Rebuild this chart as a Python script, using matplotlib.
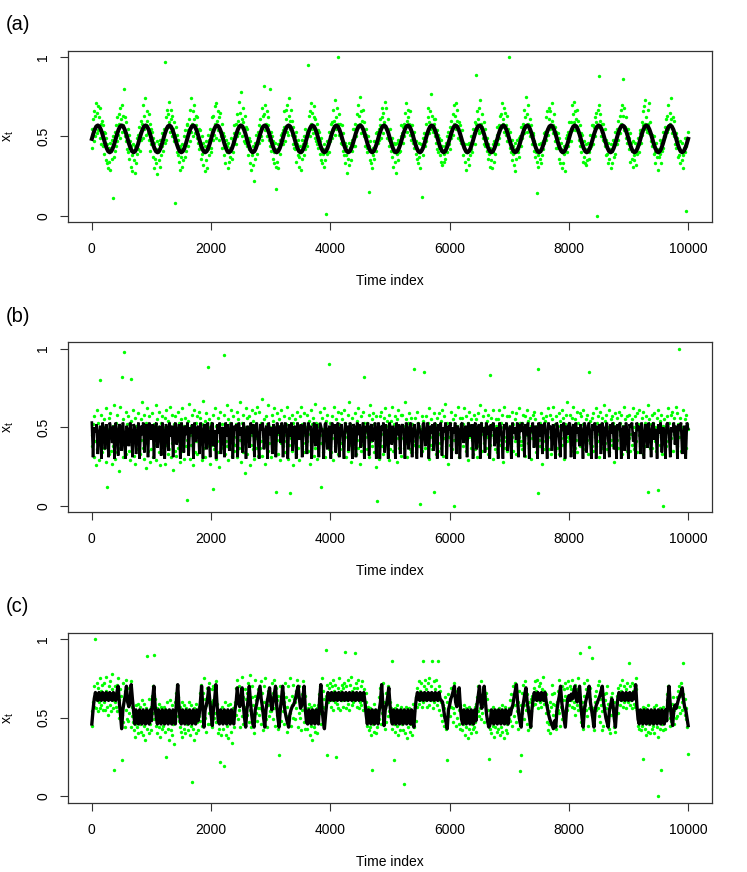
import numpy as np
import matplotlib
matplotlib.use("Agg")
import matplotlib.pyplot as plt

plt.rcParams['font.family'] = ['Liberation Sans', 'DejaVu Sans']

# ---------------- data ----------------
x_ticks = [0, 2000, 4000, 6000, 8000, 10000]
y_ticks = [0, 0.5, 1]
y_ticklabels = ["0", "0.5", "1"]
panel_tags = ["(a)", "(b)", "(c)"]

# (a) smooth periodic signal, every 25 time steps, in thousandths (one line = one cycle)
signal_a = [
    485, 518, 545, 564, 570, 564, 545, 518, 485, 452, 425, 406, 400, 406, 425, 452,
    485, 518, 545, 564, 570, 564, 545, 518, 485, 452, 425, 406, 400, 406, 425, 452,
    485, 518, 545, 564, 570, 564, 545, 518, 485, 452, 425, 406, 400, 406, 425, 452,
    485, 518, 545, 564, 570, 564, 545, 518, 485, 452, 425, 406, 400, 406, 425, 452,
    485, 518, 545, 564, 570, 564, 545, 518, 485, 452, 425, 406, 400, 406, 425, 452,
    485, 518, 545, 564, 570, 564, 545, 518, 485, 452, 425, 406, 400, 406, 425, 452,
    485, 518, 545, 564, 570, 564, 545, 518, 485, 452, 425, 406, 400, 406, 425, 452,
    485, 518, 545, 564, 570, 564, 545, 518, 485, 452, 425, 406, 400, 406, 425, 452,
    485, 518, 545, 564, 570, 564, 545, 518, 485, 452, 425, 406, 400, 406, 425, 452,
    485, 518, 545, 564, 570, 564, 545, 518, 485, 452, 425, 406, 400, 406, 425, 452,
    485, 518, 545, 564, 570, 564, 545, 518, 485, 452, 425, 406, 400, 406, 425, 452,
    485, 518, 545, 564, 570, 564, 545, 518, 485, 452, 425, 406, 400, 406, 425, 452,
    485, 518, 545, 564, 570, 564, 545, 518, 485, 452, 425, 406, 400, 406, 425, 452,
    485, 518, 545, 564, 570, 564, 545, 518, 485, 452, 425, 406, 400, 406, 425, 452,
    485, 518, 545, 564, 570, 564, 545, 518, 485, 452, 425, 406, 400, 406, 425, 452,
    485, 518, 545, 564, 570, 564, 545, 518, 485, 452, 425, 406, 400, 406, 425, 452,
    485, 518, 545, 564, 570, 564, 545, 518, 485, 452, 425, 406, 400, 406, 425, 452,
    485, 518, 545, 564, 570, 564, 545, 518, 485, 452, 425, 406, 400, 406, 425, 452,
    485, 518, 545, 564, 570, 564, 545, 518, 485, 452, 425, 406, 400, 406, 425, 452,
    485, 518, 545, 564, 570, 564, 545, 518, 485, 452, 425, 406, 400, 406, 425, 452,
    485, 518, 545, 564, 570, 564, 545, 518, 485, 452, 425, 406, 400, 406, 425, 452,
    485, 518, 545, 564, 570, 564, 545, 518, 485, 452, 425, 406, 400, 406, 425, 452,
    485, 518, 545, 564, 570, 564, 545, 518, 485, 452, 425, 406, 400, 406, 425, 452,
    485, 518, 545, 564, 570, 564, 545, 518, 485, 452, 425, 406, 400, 406, 425, 452,
    485, 518, 545, 564, 570, 564, 545, 518, 485, 452, 425, 406, 400, 406, 425, 452,
    485,
]

# (a) observations, every 10 time steps, in hundredths (one line = one cycle)
obs_a = [
    55, 43, 61, 47, 66, 50, 63, 71, 52, 65, 69, 54, 62, 49, 68, 58, 45, 60, 44, 57, 53, 39, 52, 35, 49, 33, 45, 30, 43, 34, 46, 29, 42, 36, 48, 11, 50, 37, 53, 41,
    44, 57, 47, 62, 51, 64, 58, 49, 68, 61, 53, 70, 57, 63, 80, 50, 62, 47, 59, 42, 55, 40, 51, 36, 47, 31, 44, 38, 28, 45, 35, 41, 27, 44, 33, 49, 39, 51, 42, 56,
    52, 41, 60, 48, 58, 70, 49, 63, 55, 74, 57, 51, 66, 60, 52, 64, 48, 58, 41, 55, 45, 53, 37, 49, 30, 46, 36, 42, 33, 47, 26, 40, 35, 45, 31, 48, 38, 52, 44, 50,
    41, 55, 46, 97, 62, 48, 67, 56, 64, 59, 72, 53, 61, 67, 50, 63, 55, 47, 59, 8, 50, 56, 40, 51, 38, 48, 34, 44, 29, 42, 37, 31, 45, 35, 43, 50, 37, 54, 41, 58,
    57, 44, 54, 61, 47, 67, 53, 74, 58, 50, 66, 61, 70, 52, 63, 57, 49, 62, 46, 55, 42, 54, 44, 36, 50, 39, 32, 46, 41, 28, 44, 35, 47, 30, 42, 51, 38, 48, 55, 43,
    40, 53, 62, 48, 63, 51, 69, 58, 49, 71, 60, 54, 66, 62, 48, 65, 53, 50, 58, 43, 52, 38, 50, 45, 33, 48, 40, 44, 30, 46, 34, 43, 37, 49, 42, 36, 47, 40, 52, 57,
    50, 58, 45, 64, 50, 60, 72, 52, 65, 57, 78, 61, 50, 68, 59, 47, 63, 46, 56, 48, 44, 55, 38, 49, 42, 33, 47, 29, 40, 38, 32, 44, 22, 46, 36, 45, 51, 39, 49, 53,
    57, 46, 61, 50, 56, 68, 48, 63, 82, 64, 54, 70, 58, 66, 50, 62, 57, 48, 80, 44, 53, 41, 50, 36, 47, 40, 33, 46, 31, 17, 42, 34, 45, 30, 43, 48, 39, 51, 45, 52,
    45, 54, 56, 66, 47, 61, 67, 53, 70, 51, 63, 74, 55, 60, 67, 51, 60, 45, 56, 43, 50, 42, 53, 34, 45, 38, 48, 31, 37, 44, 29, 40, 48, 36, 45, 38, 50, 42, 55, 46,
    53, 44, 95, 51, 63, 50, 66, 58, 71, 55, 65, 52, 62, 69, 49, 61, 47, 58, 45, 54, 43, 53, 39, 47, 35, 49, 33, 42, 39, 31, 45, 35, 41, 1, 47, 39, 46, 53, 40, 50,
    47, 58, 49, 59, 54, 67, 60, 51, 73, 62, 55, 68, 100, 58, 64, 51, 58, 49, 46, 57, 45, 41, 52, 38, 46, 33, 44, 38, 27, 41, 36, 46, 32, 43, 35, 46, 41, 48, 55, 44,
    55, 44, 58, 50, 64, 56, 70, 57, 63, 75, 58, 52, 66, 60, 53, 67, 50, 59, 44, 55, 51, 43, 40, 50, 15, 44, 35, 47, 33, 40, 30, 43, 38, 47, 36, 44, 52, 41, 47, 53,
    46, 55, 48, 61, 57, 49, 68, 62, 52, 65, 59, 72, 56, 68, 55, 49, 61, 54, 48, 44, 55, 47, 41, 37, 49, 31, 46, 40, 34, 45, 27, 39, 46, 35, 48, 40, 47, 41, 50, 57,
    52, 46, 56, 58, 50, 65, 57, 71, 60, 53, 67, 62, 58, 51, 66, 57, 48, 57, 51, 46, 43, 53, 46, 39, 47, 36, 42, 33, 46, 37, 40, 30, 45, 12, 42, 49, 38, 52, 44, 49,
    58, 47, 53, 62, 68, 52, 59, 66, 55, 77, 56, 63, 53, 61, 58, 50, 61, 46, 54, 42, 51, 40, 49, 44, 38, 48, 34, 44, 32, 41, 39, 34, 44, 36, 46, 40, 50, 45, 53, 45,
    42, 56, 60, 49, 56, 64, 51, 70, 58, 63, 71, 55, 60, 67, 49, 59, 52, 48, 57, 46, 47, 54, 38, 46, 43, 34, 45, 40, 29, 40, 45, 36, 32, 46, 38, 50, 42, 47, 40, 55,
    50, 52, 45, 59, 89, 58, 66, 54, 61, 68, 52, 73, 58, 53, 64, 56, 49, 59, 45, 55, 44, 49, 41, 49, 36, 45, 39, 31, 43, 35, 41, 30, 40, 45, 34, 47, 39, 48, 46, 51,
    56, 45, 57, 49, 63, 55, 64, 71, 56, 61, 58, 68, 53, 65, 57, 51, 63, 47, 55, 100, 47, 43, 53, 40, 48, 35, 44, 39, 32, 46, 28, 42, 36, 48, 40, 42, 49, 37, 50, 56,
    44, 56, 49, 58, 52, 67, 56, 62, 75, 53, 64, 58, 70, 55, 61, 50, 57, 52, 45, 52, 51, 41, 47, 37, 45, 40, 34, 14, 38, 31, 45, 36, 41, 33, 46, 38, 47, 42, 52, 46,
    53, 48, 62, 54, 66, 51, 61, 68, 55, 66, 56, 60, 71, 57, 52, 64, 47, 56, 43, 53, 43, 52, 45, 36, 49, 33, 42, 46, 30, 40, 33, 44, 39, 28, 44, 49, 40, 51, 44, 53,
    47, 59, 53, 47, 59, 70, 54, 64, 59, 72, 66, 54, 61, 56, 67, 53, 60, 48, 57, 44, 52, 40, 51, 43, 34, 47, 37, 33, 45, 32, 42, 35, 46, 40, 36, 43, 51, 44, 48, 57,
    57, 45, 56, 62, 50, 59, 65, 0, 67, 56, 70, 88, 60, 64, 50, 58, 53, 58, 48, 47, 44, 55, 38, 48, 39, 46, 33, 42, 36, 42, 30, 45, 33, 41, 48, 37, 46, 39, 53, 45,
    45, 55, 48, 60, 55, 63, 52, 67, 58, 70, 86, 63, 54, 68, 56, 62, 49, 55, 46, 55, 49, 42, 52, 34, 46, 41, 36, 47, 31, 38, 35, 46, 41, 32, 44, 39, 49, 40, 45, 54,
    52, 46, 59, 51, 66, 57, 69, 58, 73, 55, 62, 53, 67, 58, 71, 52, 59, 47, 51, 44, 51, 45, 39, 50, 40, 33, 46, 37, 42, 29, 40, 37, 48, 39, 33, 46, 41, 53, 43, 50,
    49, 56, 50, 61, 53, 63, 55, 70, 57, 65, 58, 74, 61, 52, 62, 55, 50, 60, 45, 52, 43, 49, 46, 37, 43, 38, 47, 33, 41, 35, 46, 38, 30, 43, 40, 49, 44, 3, 48, 53,
]

# (b) fast jumping signal (hundredths)
signal_b = [
    53, 31, 50, 47, 52, 33, 46, 51, 30, 53, 48, 36, 52, 45, 31, 53, 49, 40, 51, 30,
    53, 47, 32, 52, 50, 35, 53, 44, 30, 51, 48, 38, 53, 46, 31, 52, 50, 33, 47, 53,
    30, 51, 45, 53, 34, 49, 52, 31, 53, 47, 42, 52, 30, 50, 53, 37, 48, 51, 32, 53,
    46, 30, 52, 49, 35, 53, 44, 51, 31, 50, 53, 39, 47, 52, 30, 53, 48, 34, 51, 45,
    53, 32, 50, 46, 52, 30, 53, 41, 49, 51, 33, 53, 47, 30, 52, 50, 36, 53, 45, 31,
    51, 53, 38, 48, 30, 52, 46, 53, 33, 50, 49, 31, 53, 44, 52, 35, 47, 53, 30, 51,
    48, 52, 31, 53, 45, 50, 34, 53, 47, 30, 51, 49, 37, 53, 46, 52, 31, 50, 53, 43,
    30, 52, 48, 53, 36, 47, 51, 30, 53, 45, 50, 33, 52, 49, 31, 53, 46, 51, 40, 53,
    31, 50, 53, 47, 30, 52, 44, 53, 35, 49, 51, 30, 53, 48, 42, 52, 31, 50, 53, 46,
    33, 53, 49, 51, 30, 47, 53, 38, 52, 45, 31, 53, 50, 47, 30, 52, 53, 36, 48, 51,
    30, 53, 46, 52, 34, 50, 53, 31, 49, 52, 44, 30, 53, 47, 51, 35, 53, 48, 30, 52,
    50, 31, 53, 45, 52, 37, 48, 53, 30, 51, 47, 53, 32, 50, 52, 41, 46, 53, 30, 49,
    53, 30, 51, 48, 53, 34, 52, 46, 30, 53, 50, 39, 51, 47, 30, 53, 45, 52, 33, 50,
    52, 47, 30, 53, 49, 36, 51, 53, 31, 48, 52, 44, 30, 53, 50, 46, 31, 52, 53, 38,
    47, 53, 30, 51, 46, 52, 35, 53, 49, 30, 52, 48, 53, 32, 50, 47, 53, 30, 51, 48,
    53, 30, 50, 46, 53, 33, 51, 48, 30, 52, 53, 40, 47, 51, 31, 53, 49, 44, 52, 30,
    51, 53, 36, 49, 52, 30, 53, 47, 50, 34, 53, 45, 51, 30, 52, 48, 53, 38, 46, 50,
    30, 53, 51, 44, 30, 52, 49, 53, 35, 48, 51, 30, 53, 46, 50, 42, 53, 31, 52, 47,
    53, 48, 31, 52, 45, 53, 30, 50, 47, 53, 37, 51, 49, 30, 53, 44, 52, 33, 50, 53,
    46, 30, 53, 49, 51, 35, 52, 47, 30, 53, 50, 43, 31, 52, 48, 53, 30, 51, 45, 52,
    53, 31, 49, 52, 30, 53, 46, 50, 38, 52, 47, 30, 53, 51, 34, 49, 53, 45, 30, 52,
    48, 53, 30, 51, 47, 52, 33, 53, 49, 30, 50, 53, 44, 31, 52, 46, 53, 36, 51, 30,
    52, 49, 53, 30, 48, 51, 35, 53, 46, 30, 52, 50, 53, 41, 47, 30, 53, 48, 51, 33,
    53, 45, 30, 52, 50, 37, 53, 47, 31, 51, 53, 42, 49, 30, 52, 46, 53, 34, 50, 48,
    30, 52, 53, 46, 31, 50, 47, 53, 39, 51, 30, 52, 48, 53, 33, 46, 51, 30, 53, 49,
]

obs_b = [
    45, 38, 52, 31, 57, 41, 48, 26, 61, 36, 44, 53, 29, 80, 47, 39, 58, 34, 50, 42,
    37, 55, 43, 28, 62, 49, 12, 40, 56, 33, 47, 59, 35, 44, 27, 51, 38, 64, 46, 30,
    53, 41, 34, 58, 45, 22, 50, 37, 63, 43, 82, 48, 31, 55, 98, 39, 46, 60, 33, 52,
    40, 57, 35, 49, 29, 54, 81, 44, 38, 61, 32, 47, 56, 27, 51, 43, 36, 59, 45, 34,
    48, 33, 55, 42, 66, 37, 50, 30, 58, 45, 24, 53, 40, 62, 35, 49, 57, 28, 44, 51,
    36, 59, 44, 31, 52, 47, 39, 64, 29, 55, 42, 50, 34, 60, 46, 26, 53, 41, 57, 38,
    50, 43, 27, 56, 39, 61, 45, 33, 54, 48, 36, 63, 31, 47, 58, 40, 23, 52, 44, 35,
    57, 32, 49, 41, 60, 37, 53, 28, 46, 55, 40, 35, 62, 43, 51, 30, 48, 56, 38, 4,
    42, 54, 36, 65, 45, 30, 51, 39, 58, 26, 49, 44, 61, 34, 53, 41, 57, 33, 47, 60,
    35, 48, 56, 40, 29, 52, 43, 67, 37, 54, 31, 46, 59, 42, 50, 88, 38, 55, 27, 44,
    53, 39, 47, 11, 58, 36, 62, 44, 30, 51, 41, 56, 34, 49, 25, 60, 45, 37, 52, 43,
    46, 58, 96, 33, 50, 41, 64, 38, 55, 29, 47, 53, 36, 61, 43, 32, 57, 40, 49, 35,
    39, 52, 44, 60, 31, 55, 37, 48, 66, 42, 28, 53, 45, 58, 34, 50, 21, 47, 62, 41,
    56, 33, 49, 42, 57, 26, 51, 39, 61, 45, 36, 54, 30, 48, 59, 43, 37, 63, 46, 32,
    44, 60, 37, 53, 41, 68, 32, 49, 55, 38, 46, 27, 57, 43, 52, 35, 64, 40, 50, 48,
    31, 47, 58, 39, 54, 44, 62, 36, 9, 50, 42, 59, 33, 46, 55, 29, 51, 40, 61, 45,
    50, 38, 45, 57, 34, 52, 41, 63, 47, 30, 56, 39, 48, 8, 43, 58, 35, 53, 26, 49,
    42, 55, 33, 48, 60, 37, 51, 44, 29, 57, 46, 63, 38, 52, 40, 34, 59, 45, 50, 36,
    58, 41, 49, 35, 54, 46, 27, 61, 39, 52, 43, 56, 32, 48, 65, 37, 53, 44, 30, 51,
    37, 52, 45, 60, 12, 40, 56, 34, 49, 43, 62, 31, 54, 47, 38, 58, 42, 90, 36, 53,
    49, 34, 57, 43, 51, 29, 63, 46, 38, 55, 41, 48, 60, 33, 52, 45, 36, 59, 40, 47,
    55, 42, 38, 61, 47, 53, 31, 50, 44, 58, 35, 66, 39, 52, 46, 28, 56, 41, 49, 37,
    40, 59, 46, 33, 54, 42, 62, 37, 51, 27, 48, 57, 35, 45, 60, 39, 53, 82, 44, 50,
    47, 36, 53, 44, 58, 31, 49, 64, 41, 55, 38, 46, 59, 34, 52, 43, 25, 57, 48, 3,
    52, 45, 30, 57, 42, 60, 38, 50, 46, 33, 56, 44, 62, 40, 48, 54, 36, 51, 29, 58,
    36, 54, 48, 41, 63, 35, 52, 45, 57, 39, 47, 28, 55, 43, 61, 37, 50, 46, 58, 32,
    58, 43, 51, 37, 49, 66, 40, 55, 31, 47, 53, 42, 59, 36, 45, 56, 34, 52, 41, 48,
    87, 39, 56, 45, 34, 60, 48, 53, 38, 51, 44, 1, 49, 57, 35, 47, 54, 85, 42, 37,
    45, 57, 41, 53, 48, 30, 62, 44, 39, 55, 36, 50, 46, 9, 59, 42, 52, 33, 56, 40,
    51, 35, 59, 46, 40, 54, 37, 61, 49, 32, 57, 43, 48, 65, 38, 53, 45, 27, 50, 44,
    39, 53, 47, 60, 36, 49, 55, 42, 0, 58, 45, 34, 51, 40, 63, 47, 31, 56, 43, 52,
    56, 44, 38, 52, 62, 41, 48, 35, 57, 46, 53, 29, 60, 44, 50, 37, 55, 42, 47, 33,
    43, 58, 50, 36, 47, 55, 31, 59, 42, 51, 38, 64, 46, 53, 35, 49, 57, 40, 45, 61,
    50, 37, 54, 44, 58, 33, 48, 83, 39, 56, 45, 52, 30, 61, 43, 47, 36, 55, 51, 41,
    34, 55, 42, 61, 47, 39, 53, 45, 58, 28, 50, 44, 63, 37, 52, 41, 57, 35, 49, 46,
    57, 46, 51, 38, 44, 60, 35, 52, 48, 55, 41, 33, 59, 46, 50, 38, 62, 44, 53, 39,
    41, 53, 36, 58, 50, 43, 57, 32, 49, 45, 61, 40, 54, 37, 47, 56, 30, 51, 43, 58,
    48, 60, 44, 39, 55, 34, 51, 46, 8, 87, 42, 53, 38, 59, 45, 27, 56, 41, 50, 36,
    54, 38, 57, 47, 42, 62, 36, 50, 44, 58, 33, 49, 55, 40, 63, 46, 52, 35, 48, 57,
    37, 51, 46, 59, 33, 54, 43, 48, 61, 39, 56, 45, 30, 52, 47, 58, 41, 66, 44, 50,
    52, 43, 58, 35, 49, 56, 40, 63, 46, 51, 37, 55, 42, 60, 34, 48, 53, 45, 59, 38,
    45, 57, 39, 52, 61, 44, 50, 36, 55, 47, 42, 58, 33, 85, 49, 40, 54, 46, 38, 56,
    59, 35, 51, 44, 48, 62, 38, 53, 41, 57, 46, 31, 60, 45, 52, 37, 56, 43, 49, 64,
    40, 54, 47, 58, 36, 50, 43, 61, 34, 49, 55, 42, 57, 39, 53, 46, 28, 59, 44, 51,
    56, 42, 49, 37, 60, 45, 53, 40, 58, 33, 51, 47, 63, 38, 55, 44, 50, 35, 57, 46,
    43, 58, 35, 51, 46, 55, 39, 62, 44, 50, 36, 57, 48, 41, 59, 34, 52, 45, 61, 38,
    51, 40, 56, 45, 33, 60, 47, 53, 38, 57, 42, 49, 64, 9, 46, 55, 37, 52, 43, 58,
    37, 53, 46, 59, 41, 50, 35, 56, 44, 61, 10, 48, 39, 54, 45, 58, 33, 51, 0, 47,
    55, 44, 50, 38, 57, 47, 62, 41, 53, 36, 49, 58, 43, 60, 35, 52, 46, 56, 40, 63,
    46, 59, 38, 52, 44, 100, 48, 56, 35, 50, 42, 61, 47, 39, 55, 43, 58, 37, 52, 49,
]

# (c) regime switching signal, every 20 time steps (hundredths)
signal_c = [
    46, 55, 62,
    66, 62, 61, 66, 62, 61, 66, 62, 61, 66, 62, 61, 66, 62, 61, 66, 62, 61, 66,
    70, 60, 52, 43, 55, 60, 64, 70, 60, 57, 60, 71, 62, 54,
    46, 55, 48, 46, 55, 48, 46, 55, 48, 46, 55, 48, 46, 55, 48,
    62, 70, 58, 50,
    46, 55, 48, 46, 55, 48, 46, 55, 48, 46, 55, 48, 46, 55, 48, 46,
    62, 71, 58, 49,
    46, 55, 48, 46, 55, 48, 46, 55, 48, 46, 55, 48, 46, 55, 48,
    52, 60, 70, 57, 44, 55, 58, 62, 69, 60, 52, 45, 56, 62, 71, 58, 48,
    46, 55, 48, 46, 55, 48, 46, 55, 48, 46, 55, 48, 46, 55,
    60, 69, 60, 57, 62, 69, 58, 50, 44, 55, 61, 70, 60, 52, 46, 44, 55, 58, 62, 66,
    70, 62, 57, 50, 44, 55, 60, 64, 69, 60, 55, 60, 65, 70, 58, 50, 44, 55, 62, 70,
    60, 54, 50, 47, 44, 52, 55, 57, 58, 60, 63, 67, 70, 62, 56, 58, 63, 70, 55, 47,
    46, 55, 48, 46, 55, 48, 46, 55, 48, 46,
    62, 71, 56, 48, 43, 52, 60,
    66, 62, 61, 66, 62, 61, 66, 62, 61, 66, 62, 61, 66, 62, 61, 66, 62, 61, 66, 62,
    61, 66, 62, 61, 66, 62, 61, 66, 62, 61, 66,
    60, 52,
    46, 55, 48, 46, 55, 48, 46, 55, 48, 46, 55,
    60, 71, 58, 45, 55, 58, 63, 69, 58, 50,
    46, 55, 48, 46, 55, 48, 46, 55, 48, 46, 55, 48, 46, 55, 48, 46, 55, 48,
    44, 55, 62,
    66, 62, 61, 66, 62, 61, 66, 62, 61, 66, 62, 61, 66, 62, 61, 66, 62, 61, 66, 62, 61,
    60, 55, 50, 47, 43, 55, 58, 62, 64, 67, 70, 60, 57, 62, 69, 57, 49,
    46, 55, 48, 46, 55, 48, 46, 55, 48, 46, 55, 48,
    58, 64, 70, 60, 56, 62, 70, 60, 52, 47, 44,
    46, 55, 48, 46, 55, 48, 46, 55, 48, 46, 55, 48, 46, 55, 48, 46, 55,
    52, 56, 58, 63, 67, 71, 60, 52, 47, 44, 55, 60, 65, 69, 60, 55, 50, 44, 55, 62,
    66, 62, 61, 66, 62, 61, 66, 62, 61, 66,
    60, 56, 52, 49, 47, 45, 43, 48, 44, 55, 60, 64, 70, 60, 54, 49, 44, 55, 62, 64,
    61, 65, 62, 66, 70, 62, 60, 65, 70, 58, 50, 44, 55, 60, 63, 66, 70, 60, 55, 50,
    44, 55, 58, 60, 62, 64, 67, 70, 60, 55, 50, 47, 44, 55, 58, 62, 58, 50, 44, 55, 62,
    66, 62, 61, 66, 62, 61, 66, 62, 61, 66, 62, 61, 66, 62,
    71, 58, 49,
    46, 55, 48, 46, 55, 48, 46, 55, 48, 46, 55, 48, 46, 55, 48, 46, 55, 48, 46, 55, 48, 46, 55, 48,
    62, 70, 58, 50, 45, 55, 58, 56, 59, 62, 64, 66, 69, 62, 57, 55, 50, 45,
]

obs_c = [
    45, 54, 60, 57, 70, 63, 100, 56, 72, 61, 54, 69, 60, 75, 56, 67, 58, 71, 55, 66,
    60, 72, 55, 67, 76, 57, 65, 52, 70, 62, 73, 58, 54, 68, 78, 61, 56, 17, 70, 60,
    66, 57, 71, 54, 75, 61, 50, 68, 55, 64, 23, 52, 72, 47, 62, 44, 67, 55, 74, 49,
    63, 48, 69, 53, 60, 44, 73, 51, 57, 47, 42, 55, 46, 38, 58, 44, 53, 40, 59, 47,
    46, 57, 41, 54, 61, 39, 50, 45, 59, 36, 49, 56, 89, 43, 53, 40, 62, 46, 55, 42,
    57, 64, 53, 70, 49, 90, 62, 54, 45, 56, 40, 51, 44, 59, 38, 50, 57, 43, 48, 55,
    45, 57, 49, 41, 25, 48, 60, 43, 55, 36, 51, 61, 42, 49, 39, 58, 46, 54, 33, 52,
    60, 66, 55, 71, 51, 63, 48, 44, 57, 41, 53, 60, 38, 49, 58, 43, 52, 40, 56, 46,
    48, 42, 55, 60, 39, 50, 45, 58, 9, 53, 43, 56, 36, 49, 59, 40, 47, 55, 42, 51,
    57, 66, 48, 71, 58, 45, 66, 53, 75, 50, 62, 41, 58, 69, 46, 64, 53, 72, 46, 60,
    59, 68, 44, 61, 70, 50, 64, 53, 73, 47, 59, 40, 55, 48, 43, 22, 52, 39, 47, 57,
    43, 55, 19, 49, 60, 39, 51, 45, 58, 37, 54, 47, 59, 41, 52, 34, 49, 56, 44, 53,
    60, 69, 52, 74, 61, 49, 70, 55, 64, 44, 59, 76, 51, 63, 46, 57, 68, 49, 62, 54,
    66, 52, 72, 47, 60, 77, 55, 44, 63, 70, 50, 58, 40, 64, 74, 53, 61, 48, 68, 56,
    52, 63, 56, 73, 46, 66, 55, 42, 60, 70, 53, 75, 49, 62, 44, 58, 67, 51, 64, 54,
    63, 54, 72, 49, 66, 56, 74, 45, 58, 69, 52, 61, 43, 64, 26, 57, 70, 48, 60, 67,
    54, 66, 46, 60, 72, 51, 63, 41, 57, 70, 49, 61, 75, 53, 45, 64, 58, 71, 50, 62,
    60, 49, 67, 56, 74, 44, 63, 53, 70, 50, 59, 42, 65, 55, 73, 47, 58, 64, 43, 55,
    51, 43, 56, 47, 59, 39, 53, 45, 57, 36, 50, 55, 44, 58, 41, 52, 48, 56, 40, 53,
    58, 65, 53, 70, 46, 59, 75, 57, 67, 50, 62, 56, 93, 64, 26, 71, 60, 69, 62, 72,
    65, 57, 70, 61, 74, 55, 67, 60, 71, 63, 25, 59, 69, 56, 75, 63, 55, 67, 61, 71,
    61, 69, 57, 72, 63, 92, 56, 70, 61, 74, 59, 65, 55, 71, 62, 76, 58, 67, 60, 69,
    66, 91, 61, 72, 57, 69, 63, 74, 56, 65, 60, 70, 58, 73, 63, 55, 68, 61, 57, 66,
    60, 49, 45, 57, 42, 52, 44, 56, 39, 51, 17, 55, 46, 59, 41, 52, 48, 40, 54, 44,
    55, 63, 49, 69, 57, 46, 65, 53, 72, 49, 60, 43, 56, 66, 47, 59, 70, 51, 62, 54,
    60, 48, 56, 43, 86, 53, 23, 46, 56, 41, 52, 45, 58, 39, 51, 55, 42, 53, 47, 57,
    46, 55, 42, 8, 52, 40, 57, 47, 54, 37, 51, 44, 56, 41, 52, 46, 55, 39, 50, 59,
    54, 44, 57, 48, 63, 57, 69, 62, 73, 59, 67, 61, 72, 57, 66, 86, 60, 70, 62, 74,
    61, 68, 57, 72, 62, 75, 58, 66, 61, 70, 86, 64, 56, 73, 60, 68, 62, 74, 58, 65,
    86, 61, 70, 55, 67, 60, 52, 60, 48, 58, 45, 56, 63, 50, 43, 60, 23, 53, 65, 57,
    62, 51, 69, 57, 65, 47, 56, 72, 53, 63, 45, 59, 67, 50, 62, 55, 46, 58, 43, 54,
    51, 42, 55, 46, 58, 39, 52, 44, 56, 47, 37, 53, 43, 57, 50, 40, 55, 46, 52, 43,
    53, 44, 57, 47, 41, 59, 63, 54, 70, 51, 66, 56, 73, 49, 61, 53, 68, 47, 59, 64,
    58, 66, 49, 62, 45, 55, 24, 48, 43, 54, 40, 52, 45, 57, 38, 50, 44, 55, 47, 41,
    52, 43, 56, 47, 39, 53, 44, 58, 41, 50, 55, 37, 48, 57, 42, 52, 46, 40, 54, 49,
    56, 48, 61, 65, 45, 57, 70, 61, 51, 72, 58, 47, 64, 54, 43, 60, 67, 50, 16, 58,
    26, 66, 53, 71, 58, 49, 63, 73, 55, 46, 65, 57, 42, 60, 51, 44, 62, 54, 64, 58,
    61, 69, 63, 73, 59, 67, 61, 74, 56, 65, 70, 60, 72, 63, 57, 68, 61, 76, 59, 67,
    62, 53, 65, 47, 58, 42, 54, 46, 60, 40, 57, 65, 71, 59, 52, 66, 48, 58, 43, 54,
    60, 67, 55, 74, 53, 45, 62, 57, 70, 49, 61, 68, 54, 64, 72, 61, 55, 69, 62, 73,
    64, 58, 70, 61, 68, 57, 74, 64, 56, 60, 71, 52, 64, 68, 58, 75, 55, 65, 57, 91,
    56, 47, 60, 43, 57, 64, 72, 58, 68, 55, 74, 51, 45, 95, 56, 62, 69, 57, 88, 52,
    46, 56, 42, 60, 64, 55, 67, 60, 71, 56, 73, 51, 62, 47, 58, 42, 54, 45, 58, 65,
    56, 61, 66, 56, 70, 48, 59, 43, 55, 40, 52, 63, 57, 66, 52, 60, 44, 56, 41, 53,
    59, 64, 53, 69, 63, 71, 58, 67, 61, 74, 57, 65, 60, 70, 63, 56, 68, 61, 72, 60,
    65, 85, 58, 70, 61, 72, 56, 67, 63, 59, 71, 57, 68, 75, 55, 55, 45, 54, 43, 52,
    50, 42, 55, 45, 57, 24, 51, 43, 56, 39, 50, 53, 41, 58, 46, 51, 40, 55, 47, 43,
    53, 45, 57, 40, 51, 47, 58, 44, 54, 38, 0, 50, 56, 43, 17, 53, 46, 57, 42, 51,
    48, 55, 43, 51, 61, 65, 55, 70, 59, 50, 45, 56, 48, 59, 53, 63, 55, 46, 56, 50,
    59, 51, 63, 67, 57, 70, 53, 64, 72, 60, 55, 65, 85, 57, 52, 62, 49, 56, 44, 27,
]

# ---------------- layout (pixel boxes measured on the reference) ----------------
W, H = 747, 872
box_left, box_right = 68, 712
box_rows = [(51, 222), (342.3, 512.3), (632.7, 802.7)]

fig = plt.figure(figsize=(W / 100, H / 100), dpi=100)

panels = [
    (signal_a, 1000.0, obs_a, 2.9, "round"),
    (signal_b, 100.0, obs_b, 1.9, "bevel"),
    (signal_c, 100.0, obs_c, 2.4, "round"),
]

for k, (sig, scale, obs, lw, join) in enumerate(panels):
    top, bot = box_rows[k]
    ax = fig.add_axes([box_left / W, 1 - bot / H, (box_right - box_left) / W, (bot - top) / H])

    t_obs = np.linspace(0, 10000, len(obs), endpoint=False)
    t_sig = np.linspace(0, 10000, len(sig))
    ax.scatter(t_obs, np.array(obs) / 100.0, s=6, c="#00ff00", linewidths=0, zorder=1)
    ax.plot(t_sig, np.array(sig) / scale, color="black", lw=lw, zorder=2,
            solid_joinstyle=join)

    ax.set_xlim(-400, 10400)
    ax.set_ylim(-0.04, 1.04)
    ax.set_xticks(x_ticks)
    ax.set_xticklabels([str(v) for v in x_ticks])
    ax.set_yticks(y_ticks)
    ax.set_yticklabels(y_ticklabels, rotation=90, va="center")
    ax.tick_params(axis="x", direction="out", length=5.8, width=0.8, labelsize=10, pad=8.5,
                   color="#333333")
    ax.tick_params(axis="y", direction="out", length=5.8, width=0.8, labelsize=10, pad=7,
                   color="#333333")
    for sp in ax.spines.values():
        sp.set_linewidth(0.9)
        sp.set_color("#333333")

    # panel tag, y label and x label
    fig.text(6 / W, 1 - (top - 26) / H, panel_tags[k], fontsize=14.5, ha="left", va="center")
    fig.text(9 / W, 1 - (top + bot) / 2 / H, r"x$_\mathregular{t}$", fontsize=10,
             rotation=90, ha="center", va="center")
    fig.text((box_left + box_right) / 2 / W, 1 - (bot + 59) / H, "Time index",
             fontsize=10, ha="center", va="center")

fig.savefig("out.png", dpi=100)
